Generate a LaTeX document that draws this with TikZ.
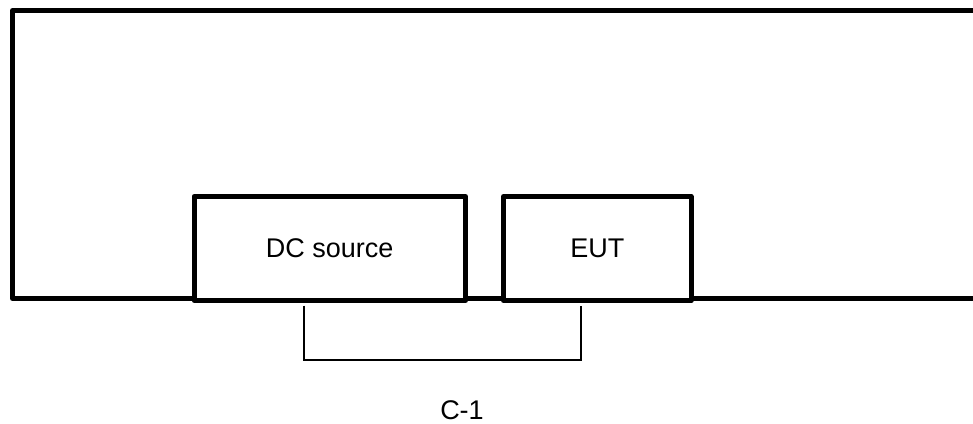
\documentclass[tikz,border=0pt]{standalone}
\usepackage{fontspec}
\setmainfont{Liberation Sans}
\begin{document}
\begin{tikzpicture}[x=1pt,y=-1pt,
  frame/.style={line width=5pt,line join=round},
  unitbox/.style={draw,line width=5pt,line join=round,inner sep=0pt,font=\fontsize{27}{32}\selectfont},
  wire/.style={line width=1.8pt},
  lbl/.style={font=\fontsize{27}{32}\selectfont,inner sep=0pt}]
\useasboundingbox (0,0) rectangle (973,423);
\clip (0,0) rectangle (973,423);
% outer frame (open to the right)
\coordinate (tr) at (990,10.5);
\coordinate (tl) at (12.5,10.5);
\coordinate (bl) at (12.5,298.5);
\coordinate (br) at (990,298.5);
\draw[frame] (tr) -- (tl) -- (bl) -- (br);
% units
\node[unitbox,fill=white,minimum width=271.5pt,minimum height=104pt] (dc) at (329.75,248.5) {DC source};
\node[unitbox,fill=white,minimum width=187.5pt,minimum height=104pt] (eut) at (597.25,248.5) {EUT};
% cable
\coordinate (j1) at (304,360);
\coordinate (j2) at (581,360);
\draw[wire] ([yshift=-2.5pt]dc.south -| j1) -- (j1) -- (j2) -- ([yshift=-2.5pt]eut.south -| j2);
\node[lbl] (c1) at (462,410) {C-1};
\end{tikzpicture}
\end{document}
